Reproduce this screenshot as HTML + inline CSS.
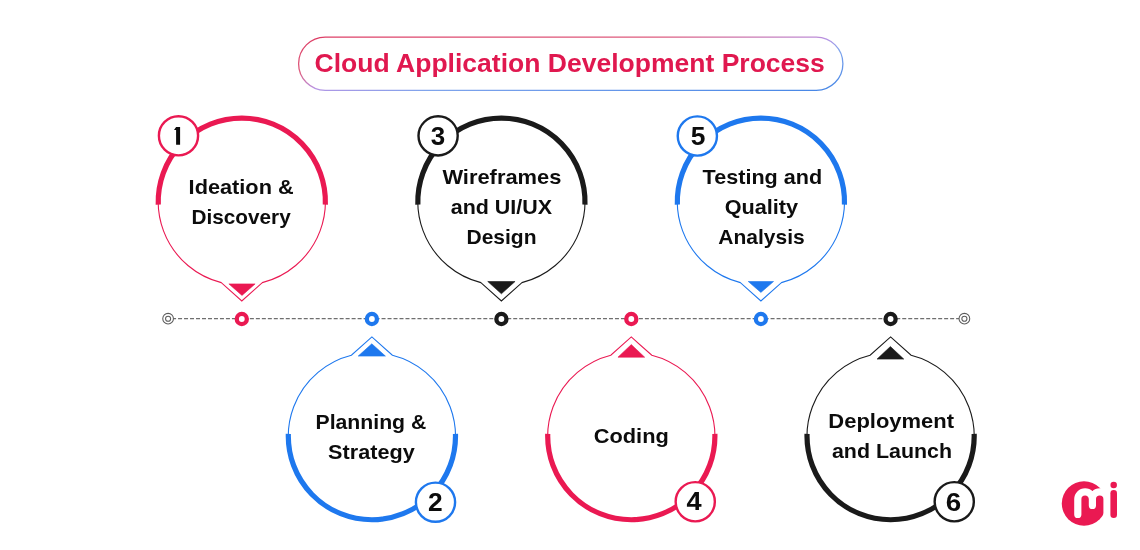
<!DOCTYPE html>
<html><head><meta charset="utf-8"><title>Cloud Application Development Process</title>
<style>
html,body{margin:0;padding:0;background:#fff;}
body{width:1140px;height:550px;overflow:hidden;}
svg{display:block;will-change:transform;font-family:"Liberation Sans", sans-serif;}
</style></head>
<body>
<svg width="1140" height="550" viewBox="0 0 1140 550">
<defs><linearGradient id="pg" x1="0" y1="0" x2="1" y2="1">
<stop offset="0" stop-color="#DD3C64"/><stop offset="0.33" stop-color="#DE5C7E"/><stop offset="0.5" stop-color="#B894E4"/><stop offset="0.62" stop-color="#7FA4EC"/><stop offset="1" stop-color="#4586E6"/></linearGradient></defs>
<rect x="298.6" y="37.1" width="544.3" height="53.2" rx="26.6" fill="#fff" stroke="url(#pg)" stroke-width="1.3"/>
<text x="569.72" y="72" text-anchor="middle" font-size="25" font-weight="bold" fill="#E0184F" textLength="510.3" lengthAdjust="spacingAndGlyphs">Cloud Application Development Process</text>
<line x1="172.07" y1="318.7" x2="959" y2="318.7" stroke="#6f6f6f" stroke-width="1.3" stroke-dasharray="4 1.985"/>
<circle cx="168.1" cy="318.7" r="5.35" fill="#fff" stroke="#5c5c5c" stroke-width="1.05"/>
<circle cx="168.1" cy="318.7" r="2.55" fill="none" stroke="#5c5c5c" stroke-width="1.05"/>
<circle cx="964.4" cy="318.7" r="5.35" fill="#fff" stroke="#5c5c5c" stroke-width="1.05"/>
<circle cx="964.4" cy="318.7" r="2.55" fill="none" stroke="#5c5c5c" stroke-width="1.05"/>
<path d="M262.3,282.65 A83.6,83.6 0 1 0 221.3,282.65 L241.8,300.95 Z" fill="#fff" stroke="#EA1952" stroke-width="1.1" stroke-linejoin="miter"/>
<path d="M158.25,204.6 A83.6,83.6 0 1 1 325.35,204.6" fill="none" stroke="#EA1952" stroke-width="5.2"/>
<path d="M228.9,283.9 L255.1,283.9 L242,295.4 Z" fill="#EA1952" stroke="#EA1952" stroke-width="0.6" stroke-linejoin="round"/>
<circle cx="178.5" cy="135.8" r="19.6" fill="#fff" stroke="#EA1952" stroke-width="2.4"/>
<path d="M176.1,127 H180.1 V144.7 H176.1 V129.9 H174 Z" fill="#0c0c0c"/>
<circle cx="241.8" cy="319.0" r="5.05" fill="#fff" stroke="#EA1952" stroke-width="4.3"/>
<text x="241.14" y="193.6" text-anchor="middle" font-size="20.5" font-weight="bold" fill="#0c0c0c" textLength="105.05" lengthAdjust="spacingAndGlyphs">Ideation &amp;</text>
<text x="241.13" y="223.7" text-anchor="middle" font-size="20.5" font-weight="bold" fill="#0c0c0c" textLength="99.27" lengthAdjust="spacingAndGlyphs">Discovery</text>
<path d="M392.4,355.25 A83.6,83.6 0 1 1 351.4,355.25 L371.9,336.95 Z" fill="#fff" stroke="#1E78EE" stroke-width="1.1" stroke-linejoin="miter"/>
<path d="M455.47,433.9 A83.6,83.6 0 1 1 288.33,433.9" fill="none" stroke="#1E78EE" stroke-width="5.2"/>
<path d="M358.2,356.1 L385.4,356.1 L371.8,343.8 Z" fill="#1E78EE" stroke="#1E78EE" stroke-width="0.6" stroke-linejoin="round"/>
<circle cx="435.5" cy="502.2" r="19.6" fill="#fff" stroke="#1E78EE" stroke-width="2.4"/>
<text x="435.31" y="510.8" text-anchor="middle" font-size="26" font-weight="bold" fill="#0c0c0c" textLength="14.65" lengthAdjust="spacingAndGlyphs">2</text>
<circle cx="371.9" cy="319.0" r="5.05" fill="#fff" stroke="#1E78EE" stroke-width="4.3"/>
<text x="370.88" y="429" text-anchor="middle" font-size="20.5" font-weight="bold" fill="#0c0c0c" textLength="110.79" lengthAdjust="spacingAndGlyphs">Planning &amp;</text>
<text x="371.39" y="459.1" text-anchor="middle" font-size="20.5" font-weight="bold" fill="#0c0c0c" textLength="86.55" lengthAdjust="spacingAndGlyphs">Strategy</text>
<path d="M521.9,282.65 A83.6,83.6 0 1 0 480.9,282.65 L501.4,300.95 Z" fill="#fff" stroke="#1A1A1A" stroke-width="1.1" stroke-linejoin="miter"/>
<path d="M417.85,204.6 A83.6,83.6 0 1 1 584.95,204.6" fill="none" stroke="#1A1A1A" stroke-width="5.2"/>
<path d="M487.75,281.5 L515.05,281.5 L501.4,293.8 Z" fill="#1A1A1A" stroke="#1A1A1A" stroke-width="0.6" stroke-linejoin="round"/>
<circle cx="438.1" cy="135.85" r="19.6" fill="#fff" stroke="#1A1A1A" stroke-width="2.4"/>
<text x="437.96" y="145" text-anchor="middle" font-size="26" font-weight="bold" fill="#0c0c0c" textLength="14.44" lengthAdjust="spacingAndGlyphs">3</text>
<circle cx="501.4" cy="319.0" r="5.05" fill="#fff" stroke="#1A1A1A" stroke-width="4.3"/>
<text x="501.89" y="183.6" text-anchor="middle" font-size="20.5" font-weight="bold" fill="#0c0c0c" textLength="118.99" lengthAdjust="spacingAndGlyphs">Wireframes</text>
<text x="501.36" y="213.7" text-anchor="middle" font-size="20.5" font-weight="bold" fill="#0c0c0c" textLength="101.27" lengthAdjust="spacingAndGlyphs">and UI/UX</text>
<text x="501.52" y="243.8" text-anchor="middle" font-size="20.5" font-weight="bold" fill="#0c0c0c" textLength="70.11" lengthAdjust="spacingAndGlyphs">Design</text>
<path d="M651.8,355.25 A83.6,83.6 0 1 1 610.8,355.25 L631.3,336.95 Z" fill="#fff" stroke="#EA1952" stroke-width="1.1" stroke-linejoin="miter"/>
<path d="M714.87,433.9 A83.6,83.6 0 1 1 547.73,433.9" fill="none" stroke="#EA1952" stroke-width="5.2"/>
<path d="M617.95,357.2 L644.65,357.2 L631.3,344.6 Z" fill="#EA1952" stroke="#EA1952" stroke-width="0.6" stroke-linejoin="round"/>
<circle cx="695.25" cy="501.75" r="19.6" fill="#fff" stroke="#EA1952" stroke-width="2.4"/>
<text x="694.17" y="510" text-anchor="middle" font-size="26" font-weight="bold" fill="#0c0c0c" textLength="15.1" lengthAdjust="spacingAndGlyphs">4</text>
<circle cx="631.3" cy="319.0" r="5.05" fill="#fff" stroke="#EA1952" stroke-width="4.3"/>
<text x="631.29" y="442.9" text-anchor="middle" font-size="20.5" font-weight="bold" fill="#0c0c0c" textLength="75.01" lengthAdjust="spacingAndGlyphs">Coding</text>
<path d="M781.4,282.65 A83.6,83.6 0 1 0 740.4,282.65 L760.9,300.95 Z" fill="#fff" stroke="#1E78EE" stroke-width="1.1" stroke-linejoin="miter"/>
<path d="M677.35,204.6 A83.6,83.6 0 1 1 844.45,204.6" fill="none" stroke="#1E78EE" stroke-width="5.2"/>
<path d="M748.25,281.5 L773.55,281.5 L760.9,292.4 Z" fill="#1E78EE" stroke="#1E78EE" stroke-width="0.6" stroke-linejoin="round"/>
<circle cx="697.35" cy="136" r="19.6" fill="#fff" stroke="#1E78EE" stroke-width="2.4"/>
<text x="698.01" y="145" text-anchor="middle" font-size="26" font-weight="bold" fill="#0c0c0c" textLength="14.7" lengthAdjust="spacingAndGlyphs">5</text>
<circle cx="760.9" cy="319.0" r="5.05" fill="#fff" stroke="#1E78EE" stroke-width="4.3"/>
<text x="762.39" y="183.6" text-anchor="middle" font-size="20.5" font-weight="bold" fill="#0c0c0c" textLength="119.55" lengthAdjust="spacingAndGlyphs">Testing and</text>
<text x="761.39" y="213.7" text-anchor="middle" font-size="20.5" font-weight="bold" fill="#0c0c0c" textLength="73.48" lengthAdjust="spacingAndGlyphs">Quality</text>
<text x="761.55" y="243.8" text-anchor="middle" font-size="20.5" font-weight="bold" fill="#0c0c0c" textLength="86.46" lengthAdjust="spacingAndGlyphs">Analysis</text>
<path d="M911.1,355.25 A83.6,83.6 0 1 1 870.1,355.25 L890.6,336.95 Z" fill="#fff" stroke="#1A1A1A" stroke-width="1.1" stroke-linejoin="miter"/>
<path d="M974.17,433.9 A83.6,83.6 0 1 1 807.03,433.9" fill="none" stroke="#1A1A1A" stroke-width="5.2"/>
<path d="M877.05,359.1 L903.75,359.1 L890.4,346.5 Z" fill="#1A1A1A" stroke="#1A1A1A" stroke-width="0.6" stroke-linejoin="round"/>
<circle cx="954.25" cy="501.75" r="19.6" fill="#fff" stroke="#1A1A1A" stroke-width="2.4"/>
<text x="953.35" y="510.5" text-anchor="middle" font-size="26" font-weight="bold" fill="#0c0c0c" textLength="15.45" lengthAdjust="spacingAndGlyphs">6</text>
<circle cx="890.6" cy="319.0" r="5.05" fill="#fff" stroke="#1A1A1A" stroke-width="4.3"/>
<text x="891.17" y="427.7" text-anchor="middle" font-size="20.5" font-weight="bold" fill="#0c0c0c" textLength="125.7" lengthAdjust="spacingAndGlyphs">Deployment</text>
<text x="891.97" y="457.8" text-anchor="middle" font-size="20.5" font-weight="bold" fill="#0c0c0c" textLength="120" lengthAdjust="spacingAndGlyphs">and Launch</text>
<circle cx="1084" cy="503.45" r="22.2" fill="#EA1952"/>
<path d="M1077.8,514.4 V499.1 A7.3,7.3 0 0 1 1092.4,499.1 V505.4 M1092.4,499.1 A7.3,7.3 0 0 1 1107,499.1 V514" fill="none" stroke="#fff" stroke-width="7.2" stroke-linecap="round"/>
<circle cx="1113.7" cy="484.9" r="3.25" fill="#EA1952"/>
<path d="M1113.7,493.3 V514.7" stroke="#EA1952" stroke-width="6.6" stroke-linecap="round"/>
</svg>
</body></html>
